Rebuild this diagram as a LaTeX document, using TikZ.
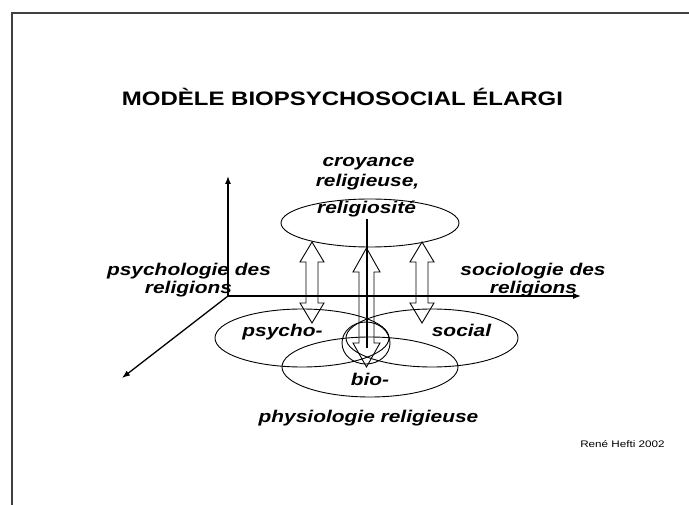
\documentclass[tikz,border=0pt]{standalone}
\usepackage{fontspec}
\setmainfont[FakeStretch=1.23]{Liberation Sans}
\usetikzlibrary{arrows.meta,shapes.geometric}
\newcommand\hollowdbl[6]{\draw[hollow] (#1,#2) -- (#1+#4,#2+#6) -- (#1+#5,#2+#6) -- (#1+#5,#3-#6) -- (#1+#4,#3-#6) -- (#1,#3) -- (#1-#4,#3-#6) -- (#1-#5,#3-#6) -- (#1-#5,#2+#6) -- (#1-#4,#2+#6) -- cycle;}
\begin{document}
\begin{tikzpicture}[x=1pt,y=-1pt,
  lab/.style={font=\fontsize{17}{20}\selectfont\bfseries\itshape, inner sep=0pt, anchor=base},
  ell/.style={draw, ellipse, line width=0.9pt, inner sep=0pt, outer sep=0pt},
  axis/.style={line width=1.3pt, -{Latex[length=8pt,width=6pt]}},
  hollow/.style={draw, line width=0.9pt, line join=miter}]
\useasboundingbox (0,0) rectangle (689,505);
\draw[line width=1.3pt, black!75] (12,505) -- (12,13) -- (689,13);
\node[font=\fontsize{19.5}{22}\selectfont\bfseries, inner sep=0pt, anchor=base] (title) at (342.5,106) {MODÈLE BIOPSYCHOSOCIAL ÉLARGI};

% axes
\coordinate (O) at (228,296);
\coordinate (up) at (228,176);
\coordinate (right) at (581,296);
\coordinate (front) at (122,378);
\draw[axis] (O) -- (up);
\draw[axis] (O) -- (right);
\draw[axis] (O) -- (front);

% ellipses
\node[ell, minimum width=178pt, minimum height=48pt] (rel) at (370,223) {};
\node[ell, minimum width=174pt, minimum height=58pt] (psy) at (302,338) {};
\node[ell, minimum width=172pt, minimum height=58pt] (soc) at (432,338) {};
\node[ell, minimum width=176pt, minimum height=60pt] (bio) at (370,367) {};
\node[ell, minimum width=48pt, minimum height=42pt] (core) at (366,343) {};

% central line
\coordinate (ltop) at (367,219);
\coordinate (lbot) at (367,348);
\draw[line width=1.1pt] (ltop) -- (lbot);

% hollow double arrows
\hollowdbl{312}{242}{323}{12}{6}{20}
\hollowdbl{422}{242}{323}{12}{6}{20}
\hollowdbl{366.5}{248}{367}{13.5}{7.5}{24}

% labels
\node[lab] (cro) at (368.5,167) {croyance};
\node[lab] (relg) at (367.5,187) {religieuse,};
\node[lab] (rlt) at (366.5,214) {religiosité};
\node[lab] (psyl1) at (189,276) {psychologie des};
\node[lab] (psyl2) at (188.5,294) {religions};
\node[lab] (socl1) at (533,276) {sociologie des};
\node[lab] (socl2) at (533.5,294) {religions};
\node[lab] (psyt) at (282.5,337) {psycho-};
\node[lab] (soct) at (461.5,337) {social};
\node[lab] (biot) at (370,385) {bio-};
\node[lab] (phys) at (368.5,423) {physiologie religieuse};
\node[font=\fontsize{9.5}{11}\selectfont, inner sep=0pt, anchor=base] (cred) at (622.5,447) {René Hefti 2002};
\end{tikzpicture}
\end{document}
